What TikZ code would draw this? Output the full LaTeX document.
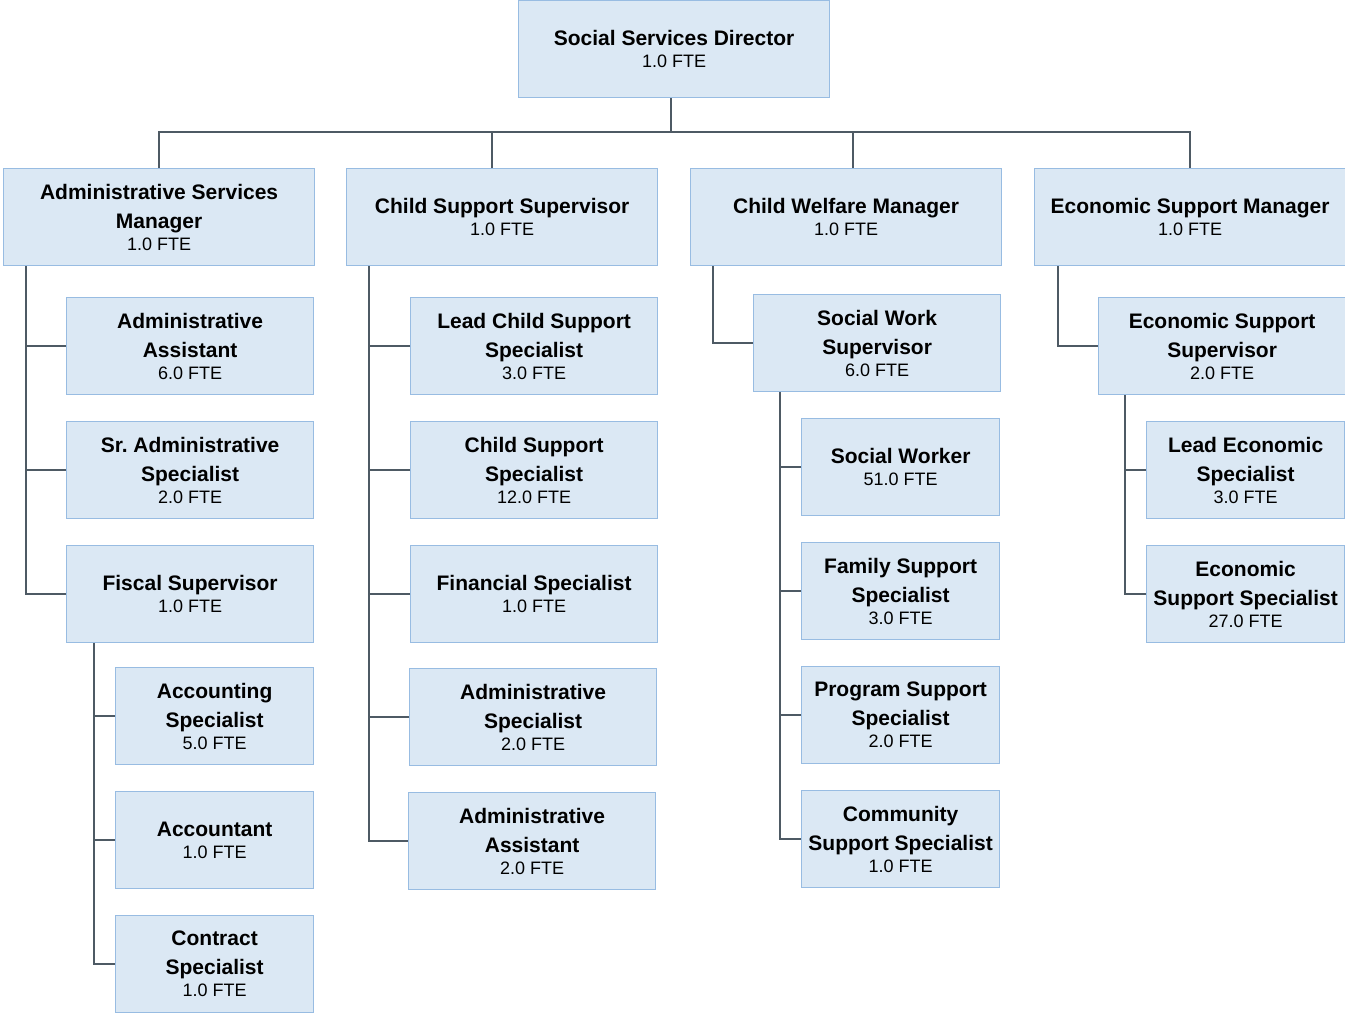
\documentclass[tikz,border=0pt]{standalone}
\usepackage{fontspec}
\setmainfont{Liberation Sans}
\usepackage{tikz}
\usetikzlibrary{positioning,calc}
\definecolor{boxfill}{RGB}{219,232,244}
\definecolor{boxedge}{RGB}{152,188,226}
\definecolor{linkgray}{RGB}{78,90,100}
\newcommand{\fte}{\fontsize{18}{22}\selectfont\mdseries}
\frenchspacing

\begin{document}
\begin{tikzpicture}[
    x=1pt, y=-1pt,
    box/.style={draw=boxedge, fill=boxfill, line width=1.2pt, anchor=north west,
        minimum height=97pt, inner sep=2pt, align=center,
        font=\fontsize{21}{29}\selectfont\bfseries},
    wide/.style={box, minimum width=311pt},
    mid/.style={box, minimum width=247pt},
    narrow/.style={box, minimum width=198pt},
    link/.style={draw=linkgray, line width=2.6pt},
]
\useasboundingbox[fill=white] (0,0) rectangle (1345,1014);

% top
\node[wide] (dir) at (518,0) {Social Services Director\\[-7pt]{\fte 1.0 FTE}};

% managers
\node[wide] (asm) at (3,168) {Administrative Services\\Manager\\[-7pt]{\fte 1.0 FTE}};
\node[wide] (css) at (346,168) {Child Support Supervisor\\[-7pt]{\fte 1.0 FTE}};
\node[wide] (cwm) at (690,168) {Child Welfare Manager\\[-7pt]{\fte 1.0 FTE}};
\node[wide] (esm) at (1034,168) {Economic Support Manager\\[-7pt]{\fte 1.0 FTE}};

% administrative services
\node[mid] (aa) at (66,297) {Administrative\\Assistant\\[-7pt]{\fte 6.0 FTE}};
\node[mid] (sas) at (66,421) {Sr. Administrative\\Specialist\\[-7pt]{\fte 2.0 FTE}};
\node[mid] (fs) at (66,545) {Fiscal Supervisor\\[-7pt]{\fte 1.0 FTE}};
\node[narrow] (acs) at (115,667) {Accounting\\Specialist\\[-7pt]{\fte 5.0 FTE}};
\node[narrow] (acc) at (115,791) {Accountant\\[-7pt]{\fte 1.0 FTE}};
\node[narrow] (cs) at (115,915) {Contract\\Specialist\\[-7pt]{\fte 1.0 FTE}};

% child support
\node[mid] (lcss) at (410,297) {Lead Child Support\\Specialist\\[-7pt]{\fte 3.0 FTE}};
\node[mid] (chss) at (410,421) {Child Support\\Specialist\\[-7pt]{\fte 12.0 FTE}};
\node[mid] (fin) at (410,545) {Financial Specialist\\[-7pt]{\fte 1.0 FTE}};
\node[mid] (ads) at (409,668) {Administrative\\Specialist\\[-7pt]{\fte 2.0 FTE}};
\node[mid] (ada) at (408,792) {Administrative\\Assistant\\[-7pt]{\fte 2.0 FTE}};

% child welfare
\node[mid] (sws) at (753,294) {Social Work\\Supervisor\\[-7pt]{\fte 6.0 FTE}};
\node[narrow] (sw) at (801,418) {Social Worker\\[-7pt]{\fte 51.0 FTE}};
\node[narrow] (fss) at (801,542) {Family Support\\Specialist\\[-7pt]{\fte 3.0 FTE}};
\node[narrow] (pss) at (801,666) {Program Support\\Specialist\\[-7pt]{\fte 2.0 FTE}};
\node[narrow] (comm) at (801,790) {Community\\Support Specialist\\[-7pt]{\fte 1.0 FTE}};

% economic support
\node[mid] (ess) at (1098,297) {Economic Support\\Supervisor\\[-7pt]{\fte 2.0 FTE}};
\node[narrow] (les) at (1146,421) {Lead Economic\\Specialist\\[-7pt]{\fte 3.0 FTE}};
\node[narrow] (ecs) at (1146,545) {Economic\\Support Specialist\\[-7pt]{\fte 27.0 FTE}};

% bus under the director
\coordinate (bus) at ($(dir.south)+(-3,34)$);
\draw[link] ([xshift=-3]dir.south) -- (bus);
\draw[link] (asm.north) -- (asm.north |- bus) -- (esm.north |- bus) -- (esm.north);
\draw[link] ([xshift=-10]css.north) -- ([xshift=-10]css.north |- bus);
\draw[link] ([xshift=7]cwm.north) -- ([xshift=7]cwm.north |- bus);

% spines
\coordinate (asmS) at ([xshift=23]asm.south west);
\draw[link] (asmS) |- (fs.west);
\foreach \n in {aa,sas} \draw[link] (\n.west) -- (\n.west -| asmS);
\coordinate (fsS) at ([xshift=28]fs.south west);
\draw[link] (fsS) |- (cs.west);
\foreach \n in {acs,acc} \draw[link] (\n.west) -- (\n.west -| fsS);

\coordinate (cssS) at ([xshift=23]css.south west);
\draw[link] (cssS) |- (ada.west);
\foreach \n in {lcss,chss,fin,ads} \draw[link] (\n.west) -- (\n.west -| cssS);

\draw[link] ([xshift=23]cwm.south west) |- (sws.west);
\coordinate (swsS) at ([xshift=27]sws.south west);
\draw[link] (swsS) |- (comm.west);
\foreach \n in {sw,fss,pss} \draw[link] (\n.west) -- (\n.west -| swsS);

\draw[link] ([xshift=24]esm.south west) |- (ess.west);
\coordinate (essS) at ([xshift=27]ess.south west);
\draw[link] (essS) |- (ecs.west);
\draw[link] (les.west) -- (les.west -| essS);
\end{tikzpicture}
\end{document}
